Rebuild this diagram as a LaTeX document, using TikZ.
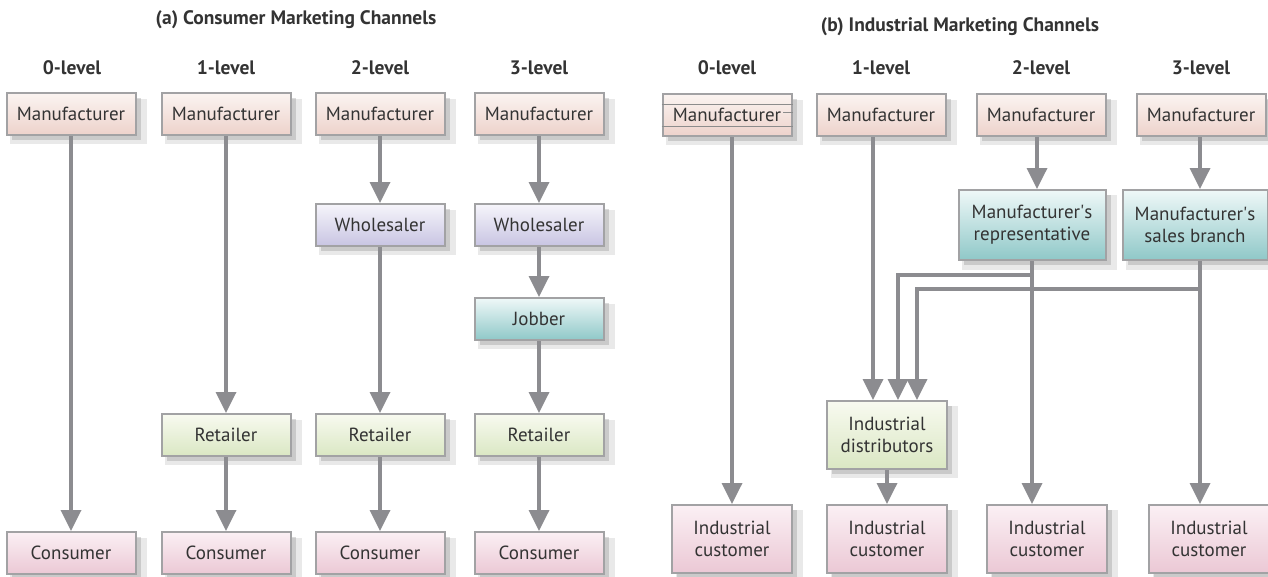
\documentclass[tikz,border=0pt]{standalone}
\usepackage{fontspec}
\setmainfont{PT Sans}
\usetikzlibrary{arrows.meta,shadows}
\definecolor{boxline}{HTML}{A2A2A4}
\definecolor{linec}{HTML}{8C8C90}
\definecolor{txt}{HTML}{333333}
\definecolor{mfrT}{HTML}{FBF4F1}
\definecolor{mfrB}{HTML}{EDD2CB}
\definecolor{conT}{HTML}{FBF0F4}
\definecolor{conB}{HTML}{EBC8D5}
\definecolor{whlT}{HTML}{F6F5FB}
\definecolor{whlB}{HTML}{C8C4E2}
\definecolor{jobT}{HTML}{EFF8F8}
\definecolor{jobB}{HTML}{8FC8C8}
\definecolor{retT}{HTML}{F8FAF0}
\definecolor{retB}{HTML}{DAE7C3}
\tikzset{
  x=1pt, y=-1pt,
  box/.style={draw=boxline, line width=2pt, minimum width=129pt, minimum height=42pt,
    inner sep=2pt, align=center, text=txt, font=\fontsize{19}{22}\selectfont,
    general shadow={opacity=0.12, shadow xshift=7pt, shadow yshift=-7pt, shadow scale=1.06, fill=black!70},
    drop shadow={opacity=0.2, shadow xshift=5pt, shadow yshift=-5pt, fill=black!70}},
  mfr/.style={box, top color=mfrT, bottom color=mfrB},
  con/.style={box, top color=conT, bottom color=conB},
  whl/.style={box, top color=whlT, bottom color=whlB},
  job/.style={box, top color=jobT, bottom color=jobB},
  ret/.style={box, top color=retT, bottom color=retB},
  tall/.style={minimum width=120pt, minimum height=68pt},
  heading/.style={font=\bfseries\fontsize{19.5}{22}\selectfont, text=txt},
  conn/.style={draw=linec, line width=3.5pt, -{Triangle[width=20pt,length=21pt]}},
  artifact/.style={draw=black!45, line width=0.6pt}
}
\begin{document}
\begin{tikzpicture}
\useasboundingbox (0,0) rectangle (1268,576);
% headings
\node[heading] (ta) at (296,20) {(a) Consumer Marketing Channels};
\node[heading] (tb) at (960,27) {(b) Industrial Marketing Channels};
\node[heading] (la0) at (72,68) {0-level};
\node[heading] (la1) at (226,68) {1-level};
\node[heading] (la2) at (380,68) {2-level};
\node[heading] (la3) at (539,68) {3-level};
\node[heading] (lb0) at (727,68) {0-level};
\node[heading] (lb1) at (881,68) {1-level};
\node[heading] (lb2) at (1041,68) {2-level};
\node[heading] (lb3) at (1201,68) {3-level};

% (a) consumer channels
\node[mfr] (a0m) at (71,114) {Manufacturer};
\node[mfr] (a1m) at (226,114) {Manufacturer};
\node[mfr] (a2m) at (380,114) {Manufacturer};
\node[mfr] (a3m) at (539,114) {Manufacturer};
\node[whl] (a2w) at (380,225) {Wholesaler};
\node[whl] (a3w) at (539,225) {Wholesaler};
\node[job] (a3j) at (539,319) {Jobber};
\node[ret] (a1r) at (226,435) {Retailer};
\node[ret] (a2r) at (380,435) {Retailer};
\node[ret] (a3r) at (539,435) {Retailer};
\node[con] (a0c) at (71,553) {Consumer};
\node[con] (a1c) at (226,553) {Consumer};
\node[con] (a2c) at (380,553) {Consumer};
\node[con] (a3c) at (539,553) {Consumer};

\draw[conn] (a0m) -- (a0c);
\draw[conn] (a1m) -- (a1r);
\draw[conn] (a1r) -- (a1c);
\draw[conn] (a2m) -- (a2w);
\draw[conn] (a2w) -- (a2r);
\draw[conn] (a2r) -- (a2c);
\draw[conn] (a3m) -- (a3w);
\draw[conn] (a3w) -- (a3j);
\draw[conn] (a3j) -- (a3r);
\draw[conn] (a3r) -- (a3c);

% (b) industrial channels
\node[mfr] (b0m) at (727,115) {Manufacturer};
\node[mfr] (b1m) at (881,115) {Manufacturer};
\node[mfr] (b2m) at (1041,115) {Manufacturer};
\node[mfr] (b3m) at (1201,115) {Manufacturer};
\node[job, minimum width=147pt, minimum height=70pt] (b2r) at (1032,225) {Manufacturer\textquotesingle s\\representative};
\node[job, minimum width=145pt, minimum height=70pt] (b3r) at (1195,225) {Manufacturer\textquotesingle s\\sales branch};
\node[ret, tall] (b1d) at (887,435) {Industrial\\distributors};
\node[con, tall] (b0c) at (732,539) {Industrial\\customer};
\node[con, tall] (b1c) at (887,539) {Industrial\\customer};
\node[con, tall] (b2c) at (1047,539) {Industrial\\customer};
\node[con, tall] (b3c) at (1209,539) {Industrial\\customer};

% artifact lines on the first industrial manufacturer box
\draw[artifact] (b0m.west |- 0,104) -- (b0m.east |- 0,104);
\draw[artifact] (b0m.west |- 0,126) -- (b0m.east |- 0,126);
\draw[artifact] (783,112) -- (b0m.east |- 0,112);

\coordinate (j1) at (898,275);
\coordinate (j2) at (917,289);
\coordinate (s1) at (873,0);
\coordinate (s2) at (1037,0);
\coordinate (s3) at (1200,0);

\draw[conn] (b0m.south -| b0c) -- (b0c.north);
\draw[conn] (s1 |- b1m.south) -- (s1 |- b1d.north);
\draw[conn] (s2 |- b2m.south) -- (s2 |- b2r.north);
\draw[conn] (s3 |- b3m.south) -- (s3 |- b3r.north);
\draw[conn] (b2r.south) |- (j1) -- (j1 |- b1d.north);
\draw[conn] (s3 |- b3r.south) |- (j2) -- (j2 |- b1d.north);
\draw[conn] (b2r.south) -- (b2r.south |- b2c.north);
\draw[conn] (s3 |- b3r.south) -- (s3 |- b3c.north);
\draw[conn] (b1d) -- (b1c);
\end{tikzpicture}
\end{document}
